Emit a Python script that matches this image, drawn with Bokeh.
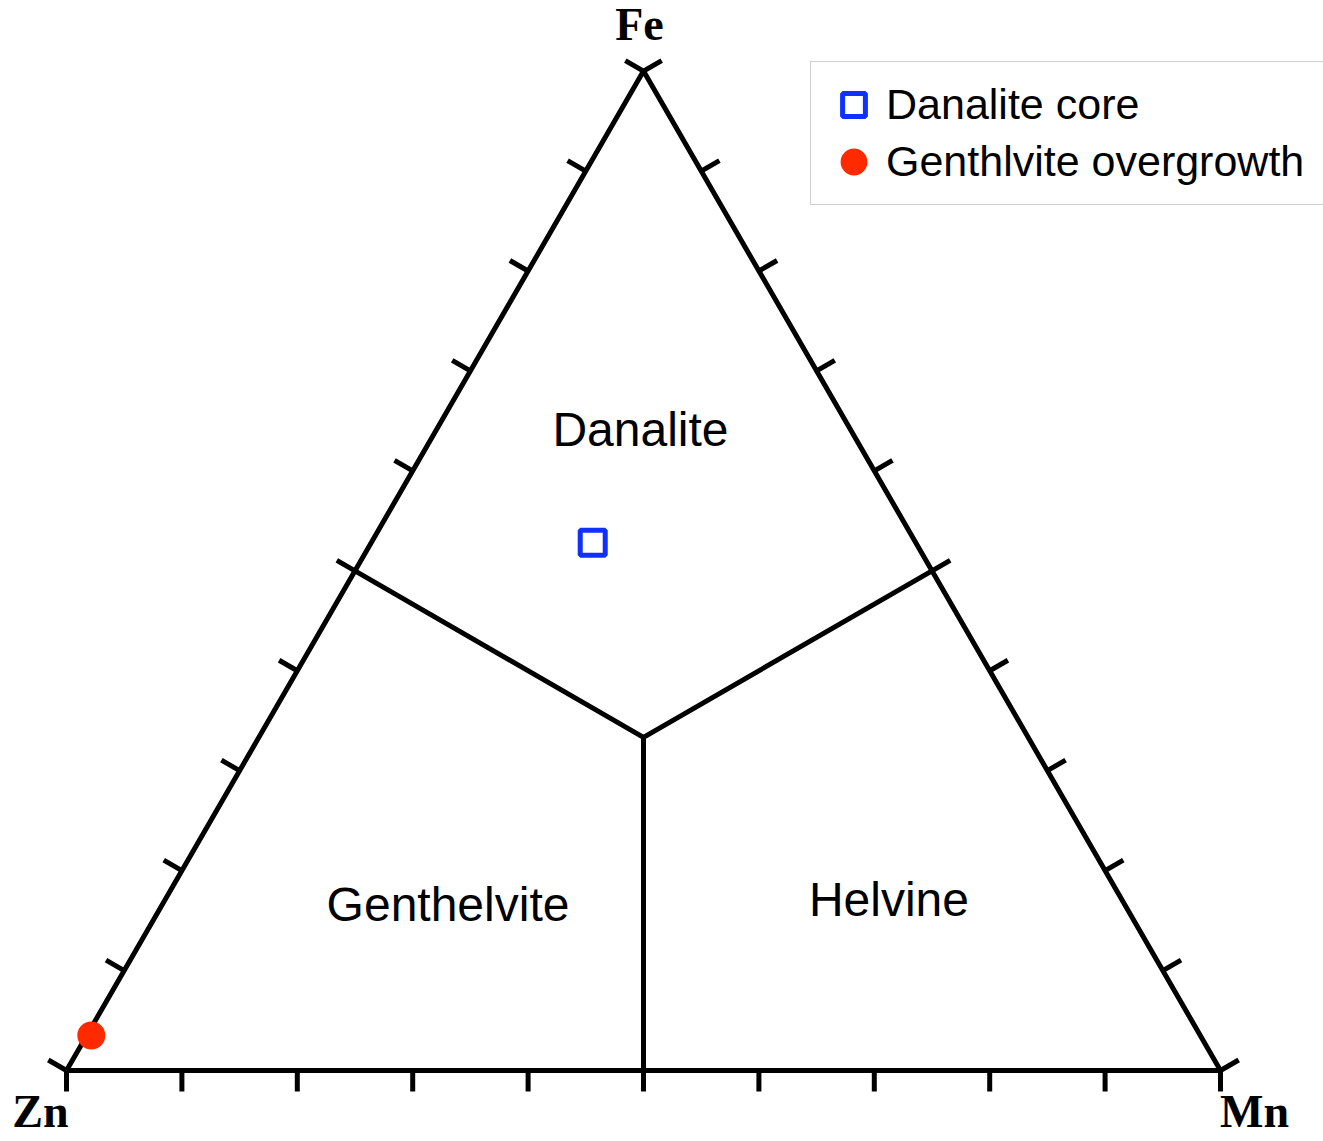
import math
from bokeh.plotting import figure
from bokeh.models import Legend, LegendItem, Range1d
from bokeh.core.properties import value
from bokeh.embed import file_html
from bokeh.resources import INLINE

# ---------------- data ----------------
apex_names = ["Zn", "Mn", "Fe"]
tick_fracs = [0.0, 0.1, 0.2, 0.3, 0.4, 0.5, 0.6, 0.7, 0.8, 0.9, 1.0]

# field boundaries as compositions (Zn, Mn, Fe)
boundary_segments = [
    [(0.5, 0.0, 0.5), (1/3, 1/3, 1/3)],
    [(0.0, 0.5, 0.5), (1/3, 1/3, 1/3)],
    [(0.5, 0.5, 0.0), (1/3, 1/3, 1/3)],
]
region_names = ["Danalite", "Genthelvite", "Helvine"]

core_Zn = [0.280]
core_Mn = [0.192]
core_Fe = [0.528]

over_Zn = [0.961]
over_Mn = [0.004]
over_Fe = [0.035]

S3 = math.sqrt(3) / 2


def tern(zn, mn, fe):
    t = zn + mn + fe
    return (mn + fe / 2) / t, (fe * S3) / t


# ---------------- figure ----------------
W, H = 1323, 1141
SCALE = 1154.0                   # px per unit
OX, OY = 66.0, 1070.0            # px of the Zn corner

p = figure(width=W, height=H, output_backend="svg", toolbar_location=None,
           x_axis_location=None, y_axis_location=None,
           x_range=Range1d(-OX / SCALE, (W - OX) / SCALE),
           y_range=Range1d(-(H - OY) / SCALE, OY / SCALE),
           min_border=0, outline_line_color=None)
p.grid.visible = False
p.background_fill_color = "white"

LW = 5
# triangle outline
verts = [tern(1, 0, 0), tern(0, 1, 0), tern(0, 0, 1)]
p.line([v[0] for v in verts] + [verts[0][0]], [v[1] for v in verts] + [verts[0][1]],
       line_color="black", line_width=LW, line_join="round")

# ticks
L = 21 / SCALE
tx0, ty0, tx1, ty1 = [], [], [], []
for t in tick_fracs:
    bx, by = tern(1 - t, t, 0)
    tx0.append(bx); ty0.append(by); tx1.append(bx); ty1.append(by - L)
    lx, ly = tern(1 - t, 0, t)
    tx0.append(lx); ty0.append(ly); tx1.append(lx - L * S3); ty1.append(ly + L * 0.5)
    rx, ry = tern(0, 1 - t, t)
    tx0.append(rx); ty0.append(ry); tx1.append(rx + L * S3); ty1.append(ry + L * 0.5)
p.segment(tx0, ty0, tx1, ty1, line_color="black", line_width=LW)

# boundaries
for a, b in boundary_segments:
    ax, ay = tern(*a)
    bx, by = tern(*b)
    p.line([ax, bx], [ay, by], line_color="black", line_width=LW, line_join="round")

BASE_FIX = -18  # screen correction for alphabetic baseline

# apex labels
offsets = {"Zn": (-26, 59), "Mn": (34, 59), "Fe": (-4, -29)}
for name, v in zip(apex_names, verts):
    dx, dy = offsets[name]
    p.text([v[0]], [v[1]], text=[name], x_offset=dx, y_offset=dy + BASE_FIX,
           text_font=value("Liberation Serif"), text_font_style="bold",
           text_font_size="46px", text_align="center", text_baseline="alphabetic",
           text_color="black")

# region labels (positions of label baselines)
region_xy = [(0.4974, 0.5399), (0.3306, 0.1282), (0.7127, 0.1326)]
p.text([q[0] for q in region_xy], [q[1] for q in region_xy], text=region_names,
       y_offset=BASE_FIX,
       text_font=value("Liberation Sans"), text_font_size="48px",
       text_align="center", text_baseline="alphabetic", text_color="black")

# data points
cx, cy = zip(*[tern(a, b, c) for a, b, c in zip(core_Zn, core_Mn, core_Fe)])
ox, oy = zip(*[tern(a, b, c) for a, b, c in zip(over_Zn, over_Mn, over_Fe)])
r_core = p.scatter(list(cx), list(cy), marker="square", size=25, fill_color=None,
                   line_color="#1030ff", line_width=5)
r_over = p.scatter(list(ox), list(oy), marker="circle", size=24, fill_color="#ff2a00",
                   line_color="#ff2a00", line_width=4)

legend = Legend(items=[LegendItem(label="Danalite core", renderers=[r_core]),
                       LegendItem(label="Genthlvite overgrowth", renderers=[r_over])],
                location=(810, H - 205), orientation="vertical",
                glyph_width=57, glyph_height=57, spacing=0, padding=14,
                label_standoff=4, label_width=440,
                label_text_font="Liberation Sans", label_text_font_size="43px",
                label_text_color="black",
                border_line_color="#a0a0a0", border_line_width=1.5,
                background_fill_color="white", background_fill_alpha=1.0, margin=0)
p.add_layout(legend, "center")

open("out.html", "w").write(file_html(p, INLINE))
